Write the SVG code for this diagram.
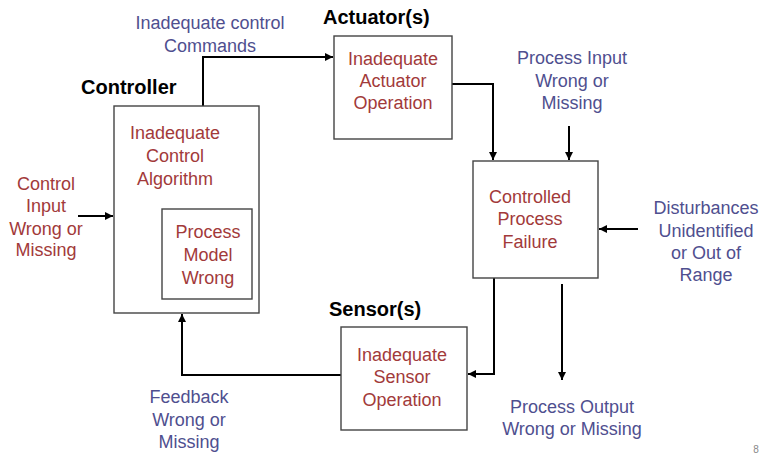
<svg xmlns="http://www.w3.org/2000/svg" width="763" height="455" viewBox="0 0 763 455">
<style>
.box{fill:#fff;stroke:#444;stroke-width:1.4}
.red{font-family:"Liberation Sans",Arial,sans-serif;font-size:18px;fill:#a23a3a;text-anchor:middle}
.blue{font-family:"Liberation Sans",Arial,sans-serif;font-size:18px;fill:#4f4f8f;text-anchor:middle}
.title{font-family:"Liberation Sans",Arial,sans-serif;font-size:20px;font-weight:bold;fill:#000}
.conn{fill:none;stroke:#000;stroke-width:2}
</style>
<defs>
<marker id="arr" viewBox="0 0 10 10" refX="10" refY="5" markerWidth="4" markerHeight="4" orient="auto" markerUnits="strokeWidth">
<path d="M0,0 L10,5 L0,10 z" fill="#000"/>
</marker>
</defs>
<rect width="763" height="455" fill="#fff"/>

<g id="connectors">
<path class="conn" d="M203,106 V57 H333" marker-end="url(#arr)"/>
<path class="conn" d="M452,84 H493 V160" marker-end="url(#arr)"/>
<path class="conn" d="M569,126 V160" marker-end="url(#arr)"/>
<path class="conn" d="M638,229 H599" marker-end="url(#arr)"/>
<path class="conn" d="M494,278 V374 H468" marker-end="url(#arr)"/>
<path class="conn" d="M562,284 V380" marker-end="url(#arr)"/>
<path class="conn" d="M341,375 H182 V314" marker-end="url(#arr)"/>
<path class="conn" d="M78,216 H113" marker-end="url(#arr)"/>
</g>

<g id="controller">
<rect class="box" x="114" y="106" width="145" height="207"/>
<text class="title" x="81" y="94">Controller</text>
<text class="red" x="175" y="139">Inadequate</text>
<text class="red" x="175" y="162">Control</text>
<text class="red" x="175" y="185">Algorithm</text>
</g>

<g id="process-model">
<rect class="box" x="162" y="209" width="90" height="90"/>
<text class="red" x="208" y="238">Process</text>
<text class="red" x="208" y="261">Model</text>
<text class="red" x="208" y="284">Wrong</text>
</g>

<g id="actuator">
<rect class="box" x="334" y="36" width="118" height="103"/>
<text class="title" x="323" y="24">Actuator(s)</text>
<text class="red" x="393" y="65">Inadequate</text>
<text class="red" x="393" y="87">Actuator</text>
<text class="red" x="393" y="109">Operation</text>
</g>

<g id="controlled-process">
<rect class="box" x="473" y="161" width="125" height="117"/>
<text class="red" x="530" y="203">Controlled</text>
<text class="red" x="530" y="225">Process</text>
<text class="red" x="530" y="248">Failure</text>
</g>

<g id="sensor">
<rect class="box" x="341" y="327" width="126" height="103"/>
<text class="title" x="329" y="316">Sensor(s)</text>
<text class="red" x="402" y="361">Inadequate</text>
<text class="red" x="402" y="383">Sensor</text>
<text class="red" x="402" y="406">Operation</text>
</g>

<g id="label-commands">
<text class="blue" x="210" y="29">Inadequate control</text>
<text class="blue" x="210" y="52">Commands</text>
</g>
<g id="label-process-input">
<text class="blue" x="572" y="64">Process Input</text>
<text class="blue" x="572" y="87">Wrong or</text>
<text class="blue" x="572" y="109">Missing</text>
</g>
<g id="label-control-input">
<text class="red" x="46" y="190">Control</text>
<text class="red" x="46" y="212">Input</text>
<text class="red" x="46" y="235">Wrong or</text>
<text class="red" x="46" y="256">Missing</text>
</g>
<g id="label-disturbances">
<text class="blue" x="706" y="214">Disturbances</text>
<text class="blue" x="706" y="237">Unidentified</text>
<text class="blue" x="706" y="259">or Out of</text>
<text class="blue" x="706" y="281">Range</text>
</g>
<g id="label-feedback">
<text class="blue" x="189" y="403">Feedback</text>
<text class="blue" x="189" y="426">Wrong or</text>
<text class="blue" x="189" y="448">Missing</text>
</g>
<g id="label-process-output">
<text class="blue" x="572" y="413">Process Output</text>
<text class="blue" x="572" y="435">Wrong or Missing</text>
</g>
<text x="756" y="453" font-family="Liberation Sans, Arial, sans-serif" font-size="10" fill="#888" text-anchor="middle">8</text>
</svg>
